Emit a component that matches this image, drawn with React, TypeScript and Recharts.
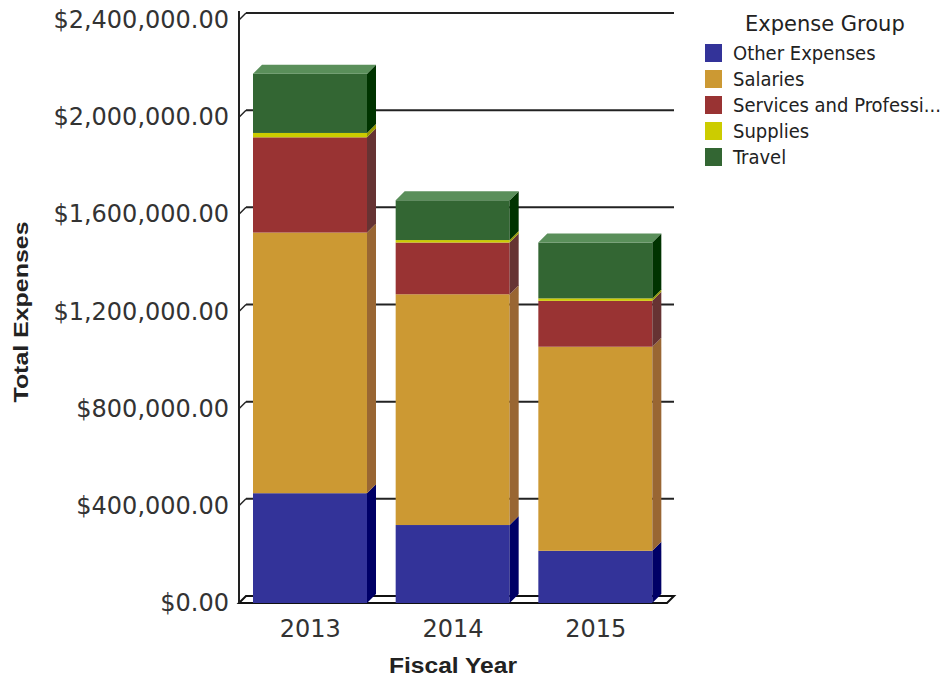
import React from "react"
import { BarChart, Bar, XAxis, YAxis, CartesianGrid } from "recharts"

// fiscal years and amounts per expense group (USD)
const years = ["2013", "2014", "2015"]
const otherExpenses = [452000, 321000, 215000]
const salaries = [1073000, 950000, 840000]
const services = [392000, 213000, 189000]
const supplies = [18000, 10000, 10000]
const travel = [244000, 164000, 230000]
const yTicks = [0, 400000, 800000, 1200000, 1600000, 2000000, 2400000]

const seriesNames = ["Other Expenses", "Salaries", "Services and Professi...", "Supplies", "Travel"]
const seriesKeys = ["other", "salaries", "services", "supplies", "travel"]
const frontColors = ["#333399", "#cc9933", "#993333", "#cccc00", "#336633"]
const sideColors = ["#000066", "#996633", "#663333", "#999900", "#003300"]
const topColor = "#5a8f5a"

const data = years.map((year, i) => ({
  year,
  other: otherExpenses[i],
  salaries: salaries[i],
  services: services[i],
  supplies: supplies[i],
  travel: travel[i],
}))

const W = 943
const H = 681
const PLOT_LEFT = 239
const PLOT_RIGHT = 667
const PLOT_TOP = 20
const PLOT_BOTTOM = 603
const DEPTH = 9
const WALL = 7

const make3D = (front: string, side: string, top?: string) => (props: any) => {
  const { x, y, width, height } = props
  if (!height || height <= 0) return <g />
  const d = DEPTH
  return (
    <g>
      <rect x={x} y={y} width={width} height={height} fill={front} />
      <polygon
        points={`${x + width},${y} ${x + width + d},${y - d} ${x + width + d},${y + height - d} ${x + width},${y + height}`}
        fill={side}
      />
      {top && (
        <polygon points={`${x},${y} ${x + d},${y - d} ${x + width + d},${y - d} ${x + width},${y}`} fill={top} />
      )}
    </g>
  )
}

const gridLine = (p: any) => {
  const { x1, y1, x2, index } = p
  const key = `g-${index}`
  if (Math.abs(y1 - PLOT_BOTTOM) < 1) {
    return (
      <polygon
        key={key}
        points={`${x1},${y1} ${x1 + WALL},${y1 - WALL} ${x2 + WALL},${y1 - WALL} ${x2},${y1}`}
        fill="#fff"
        stroke="#111"
        strokeWidth={2}
      />
    )
  }
  return (
    <g key={key}>
      <line x1={x1} y1={y1} x2={x1 + WALL} y2={y1 - WALL} stroke="#222" strokeWidth={1.5} />
      <line x1={x1 + WALL} y1={y1 - WALL} x2={x2 + WALL} y2={y1 - WALL} stroke="#222" strokeWidth={2} />
      {Math.abs(y1 - PLOT_TOP) < 1 && (
        <line x1={x1} y1={y1} x2={x1} y2={y1 - WALL - 2} stroke="#222" strokeWidth={2} />
      )}
    </g>
  )
}

const fmtMoney = (v: number) =>
  "$" + v.toLocaleString("en-US", { minimumFractionDigits: 2, maximumFractionDigits: 2 })

const YTick = (props: any) => {
  const { x, y, payload } = props
  return (
    <text x={x} y={y} textAnchor="end" dominantBaseline="central" fontSize={24} fill="#333"
      fontFamily="'DejaVu Sans', Verdana, sans-serif">
      {fmtMoney(payload.value)}
    </text>
  )
}

const XTick = (props: any) => {
  const { x, y, payload } = props
  return (
    <text x={x} y={y} dy="0.72em" textAnchor="middle" fontSize={24} fill="#333"
      fontFamily="'DejaVu Sans', Verdana, sans-serif">
      {payload.value}
    </text>
  )
}

const yTitle = () => (
  <text x={28} y={312} transform="rotate(-90 28 312)" textAnchor="middle" fontSize={21} fontWeight="bold"
    fill="#222" fontFamily="'Liberation Sans', Arial, sans-serif" textLength={181} lengthAdjust="spacingAndGlyphs">
    Total Expenses
  </text>
)

const xTitle = () => (
  <text x={453} y={673} textAnchor="middle" fontSize={22} fontWeight="bold" fill="#222"
    fontFamily="'Liberation Sans', Arial, sans-serif" textLength={128} lengthAdjust="spacingAndGlyphs">
    Fiscal Year
  </text>
)

const LegendBox = () => (
  <div style={{
    position: "absolute", left: 700, top: 8, width: 243, height: 175,
    fontFamily: "'DejaVu Sans', Verdana, sans-serif",
  }}>
    <div style={{ position: "absolute", left: 45, top: 4, fontSize: 21, lineHeight: "24px", color: "#222" }}>
      Expense Group
    </div>
    {seriesNames.map((name, i) => (
      <div key={name} style={{ position: "absolute", left: 5, top: 32 + i * 26, height: 26, display: "flex", alignItems: "center" }}>
        <div style={{ width: 17, height: 18, background: frontColors[i] }} />
        <div style={{
          marginLeft: 11, fontSize: 20, color: "#222", whiteSpace: "nowrap",
          fontFamily: "'DejaVu Sans Condensed', 'DejaVu Sans', sans-serif", fontStretch: "condensed",
        }}>
          {name}
        </div>
      </div>
    ))}
  </div>
)

export default function App() {
  return (
    <div style={{ position: "absolute", left: 0, top: 0, width: W, height: H, background: "#fff" }}>
      <BarChart
        width={W}
        height={H}
        data={data}
        barSize={114}
        margin={{ top: PLOT_TOP, right: W - PLOT_RIGHT, bottom: 0, left: 0 }}
      >
        <CartesianGrid vertical={false} horizontal={gridLine} />
        <XAxis dataKey="year" axisLine={false} tickLine={false} tickMargin={11} tick={<XTick />} label={xTitle}
          height={H - PLOT_BOTTOM} />
        <YAxis
          width={PLOT_LEFT}
          domain={[0, 2400000]}
          ticks={yTicks}
          interval={0}
          axisLine={{ stroke: "#222", strokeWidth: 2 }}
          tickLine={false}
          tickMargin={4}
          tick={<YTick />}
          label={yTitle}
        />
        {seriesKeys.map((k, i) => (
          <Bar
            key={k}
            dataKey={k}
            name={seriesNames[i]}
            stackId="exp"
            fill={frontColors[i]}
            isAnimationActive={false}
            shape={make3D(frontColors[i], sideColors[i], i === seriesKeys.length - 1 ? topColor : undefined)}
          />
        ))}
      </BarChart>
      <LegendBox />
    </div>
  )
}
